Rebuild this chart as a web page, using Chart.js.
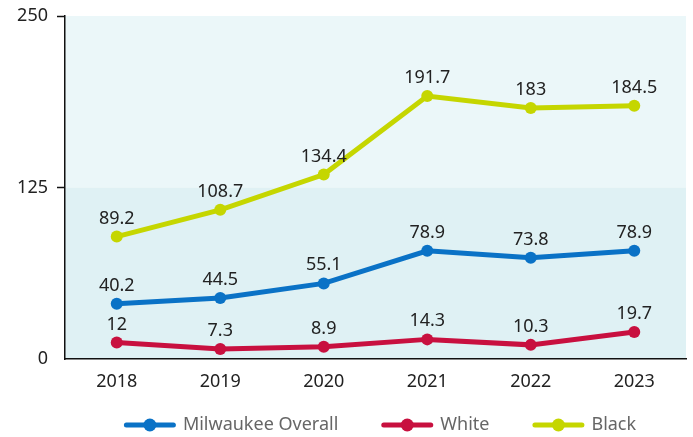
<!DOCTYPE html>
<html>
<head>
<meta charset="utf-8">
<script src="https://cdn.jsdelivr.net/npm/chart.js@4/dist/chart.umd.min.js"></script>
<style>
  html, body { margin: 0; padding: 0; background: #fff; }
  #wrap { width: 693px; height: 437px; }
</style>
</head>
<body>
<div id="wrap"><canvas id="chart" width="693" height="437"></canvas></div>
<script>
const years = ["2018", "2019", "2020", "2021", "2022", "2023"];
const milwaukee = [40.2, 44.5, 55.1, 78.9, 73.8, 78.9];
const white = [12, 7.3, 8.9, 14.3, 10.3, 19.7];
const black = [89.2, 108.7, 134.4, 191.7, 183, 184.5];
const yTicks = [0, 125, 250];

const FONT = "'Noto Sans', sans-serif";

// two shaded bands behind the plot, split at 125
const bands = {
    id: "bands",
    beforeDraw(chart) {
        let { ctx, chartArea: a, scales: { y } } = chart;
        let mid = y.getPixelForValue(125);
        ctx.save();
        ctx.fillStyle = "#ebf7f9";
        ctx.fillRect(a.left, a.top, a.right - a.left, mid - a.top);
        ctx.fillStyle = "#dff1f4";
        ctx.fillRect(a.left, mid, a.right - a.left, a.bottom - mid);
        ctx.restore();
    }
};

// value labels above every point
const valueLabels = {
    id: "valueLabels",
    afterDatasetsDraw(chart) {
        let ctx = chart.ctx;
        ctx.save();
        ctx.font = "18px " + FONT;
        ctx.fillStyle = "#222";
        ctx.textAlign = "center";
        ctx.textBaseline = "alphabetic";
        chart.data.datasets.forEach((ds, i) => {
            chart.getDatasetMeta(i).data.forEach((pt, j) => {
                ctx.fillText(String(ds.data[j]), pt.x, pt.y - 13);
            });
        });
        ctx.restore();
    }
};

// legend row under the axis: line-with-dot swatch then the series name
const lineLegend = {
    id: "lineLegend",
    afterDraw(chart) {
        let ctx = chart.ctx;
        let sw = 52, textGap = 7, itemGap = 43;
        let cx = 380, cy = 425;
        ctx.save();
        ctx.font = "18px " + FONT;
        let items = chart.data.datasets.map(ds => ({
            ds: ds,
            w: ctx.measureText(ds.label).width
        }));
        let total = items.reduce((t, it) => t + sw + textGap + it.w, 0) + itemGap * (items.length - 1);
        let x = cx - total / 2;
        items.forEach(it => {
            let c = it.ds.borderColor;
            ctx.strokeStyle = c;
            ctx.lineWidth = 5;
            ctx.lineCap = "round";
            ctx.beginPath();
            ctx.moveTo(x + 2.5, cy);
            ctx.lineTo(x + sw - 2.5, cy);
            ctx.stroke();
            ctx.fillStyle = c;
            ctx.beginPath();
            ctx.arc(x + sw / 2, cy, 6.5, 0, Math.PI * 2);
            ctx.fill();
            ctx.fillStyle = "#666";
            ctx.textAlign = "left";
            ctx.textBaseline = "middle";
            ctx.fillText(it.ds.label, x + sw + textGap, cy);
            x += sw + textGap + it.w + itemGap;
        });
        ctx.restore();
    }
};

function series(label, data, color) {
    return {
        label: label,
        data: data,
        borderColor: color,
        backgroundColor: color,
        borderWidth: 5,
        pointRadius: 6,
        pointHoverRadius: 6,
        pointBorderWidth: 0,
        tension: 0
    };
}

new Chart(document.getElementById("chart"), {
    type: "line",
    data: {
        labels: years,
        datasets: [
            series("Milwaukee Overall", milwaukee, "#0a72c6"),
            series("White", white, "#c8103f"),
            series("Black", black, "#c5d600")
        ]
    },
    options: {
        responsive: false,
        animation: false,
        layout: { padding: { left: 0, right: 7, top: 16, bottom: 31 } },
        scales: {
            x: {
                offset: true,
                grid: { display: false },
                border: { color: "#111", width: 1.5 },
                ticks: { color: "#222", font: { family: FONT, size: 18 }, padding: 4 },
                afterFit(s) {
                    s.height = 47;
                    s.paddingLeft = 0;
                    s.paddingRight = 0;
                }
            },
            y: {
                min: 0,
                max: 250,
                afterBuildTicks(s) { s.ticks = yTicks.map(v => ({ value: v })); },
                grid: {
                    drawOnChartArea: false,
                    tickLength: 8,
                    tickWidth: 1.5,
                    color: "#111",
                    tickColor: ctx => ctx.tick && ctx.tick.value === 0 ? "rgba(0,0,0,0)" : "#111"
                },
                border: { color: "#111", width: 1.5 },
                ticks: { color: "#222", font: { family: FONT, size: 18 }, padding: 9 },
                afterFit(s) {
                    s.width = 65;
                    s.paddingTop = 0;
                    s.paddingBottom = 0;
                }
            }
        },
        plugins: {
            tooltip: { enabled: false },
            legend: { display: false }
        }
    },
    plugins: [bands, valueLabels, lineLegend]
});
</script>
</body>
</html>
